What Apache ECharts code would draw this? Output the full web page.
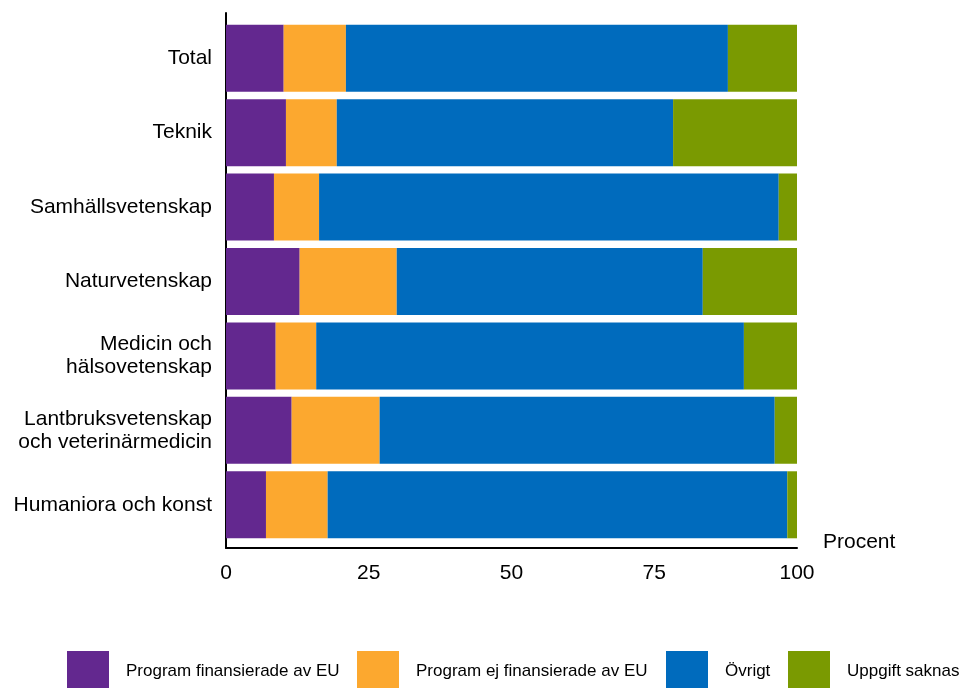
<!DOCTYPE html>
<html>
<head>
<meta charset="utf-8">
<script src="https://cdn.jsdelivr.net/npm/echarts@6/dist/echarts.min.js"></script>
<style>
html,body{margin:0;padding:0;background:#fff;}
#chart{width:960px;height:688px;}
</style>
</head>
<body>
<div id="chart"></div>
<script>
const categories = ["Total", "Teknik", "Samhällsvetenskap", "Naturvetenskap", "Medicin och\nhälsovetenskap", "Lantbruksvetenskap\noch veterinärmedicin", "Humaniora och konst"];
const seriesNames = ["Program finansierade av EU", "Program ej finansierade av EU", "Övrigt", "Uppgift saknas"];
const euFunded    = [10.1, 10.5, 8.4, 12.9, 8.7, 11.5, 7.0];
const notEuFunded = [10.9, 8.9, 7.9, 17.0, 7.1, 15.4, 10.8];
const other       = [66.9, 58.9, 80.5, 53.6, 74.9, 69.2, 80.5];
const missing     = [12.1, 21.7, 3.2, 16.5, 9.3, 3.9, 1.7];
const xTicks = [0, 25, 50, 75, 100];
const colors = ["#63288f", "#fca82f", "#006bbd", "#7a9a01"];

const font = "'Liberation Sans', Arial, sans-serif";
const values = [euFunded, notEuFunded, other, missing];

const chart = echarts.init(document.getElementById('chart'), null, {renderer: 'canvas'});
const legendLefts = [67, 357, 666, 788];

const option = {
  animation: false,
  textStyle: {fontFamily: font},
  color: colors,
  grid: [
    {left: 226, right: 163, top: 21, height: 521},
    {left: 226, right: 163, top: 13, height: 535}
  ],
  xAxis: [
    {gridIndex: 0, type: 'value', min: 0, max: 100, interval: 25, show: false},
    {gridIndex: 1, type: 'value', min: xTicks[0], max: xTicks[xTicks.length-1], interval: 25,
     axisLine: {show: true, lineStyle: {color: '#000', width: 2}},
     axisTick: {show: false}, splitLine: {show: false},
     axisLabel: {fontSize: 21, color: '#000', margin: 15, fontFamily: font},
     name: 'Procent', nameLocation: 'end', nameGap: 26,
     nameTextStyle: {fontSize: 21, color: '#000', fontFamily: font, align: 'left', verticalAlign: 'bottom', padding: [0,0,-5,0]}}
  ],
  yAxis: [
    {gridIndex: 0, type: 'category', data: categories, inverse: true,
     axisLine: {show: false}, axisTick: {show: false},
     axisLabel: {fontSize: 21, color: '#000', margin: 14, lineHeight: 23, align: 'right', fontFamily: font, padding: [4,0,0,0]}},
    {gridIndex: 1, type: 'value', min: 0, max: 1,
     axisLine: {show: true, lineStyle: {color: '#000', width: 2}},
     axisTick: {show: false}, axisLabel: {show: false}, splitLine: {show: false}}
  ],
  legend: seriesNames.map((n, i) => ({
    data: [n], left: legendLefts[i], top: 651, padding: 0,
    itemWidth: 42, itemHeight: 40, icon: 'rect',
    textStyle: {fontSize: 17, color: '#000', fontFamily: font, padding: [0,0,0,12]}
  })),
  series: seriesNames.map((n, i) => ({
    name: n, type: 'bar', stack: 'total', xAxisIndex: 0, yAxisIndex: 0,
    barWidth: 67, data: values[i], itemStyle: {color: colors[i]}
  }))
};
chart.setOption(option);
</script>
</body>
</html>
